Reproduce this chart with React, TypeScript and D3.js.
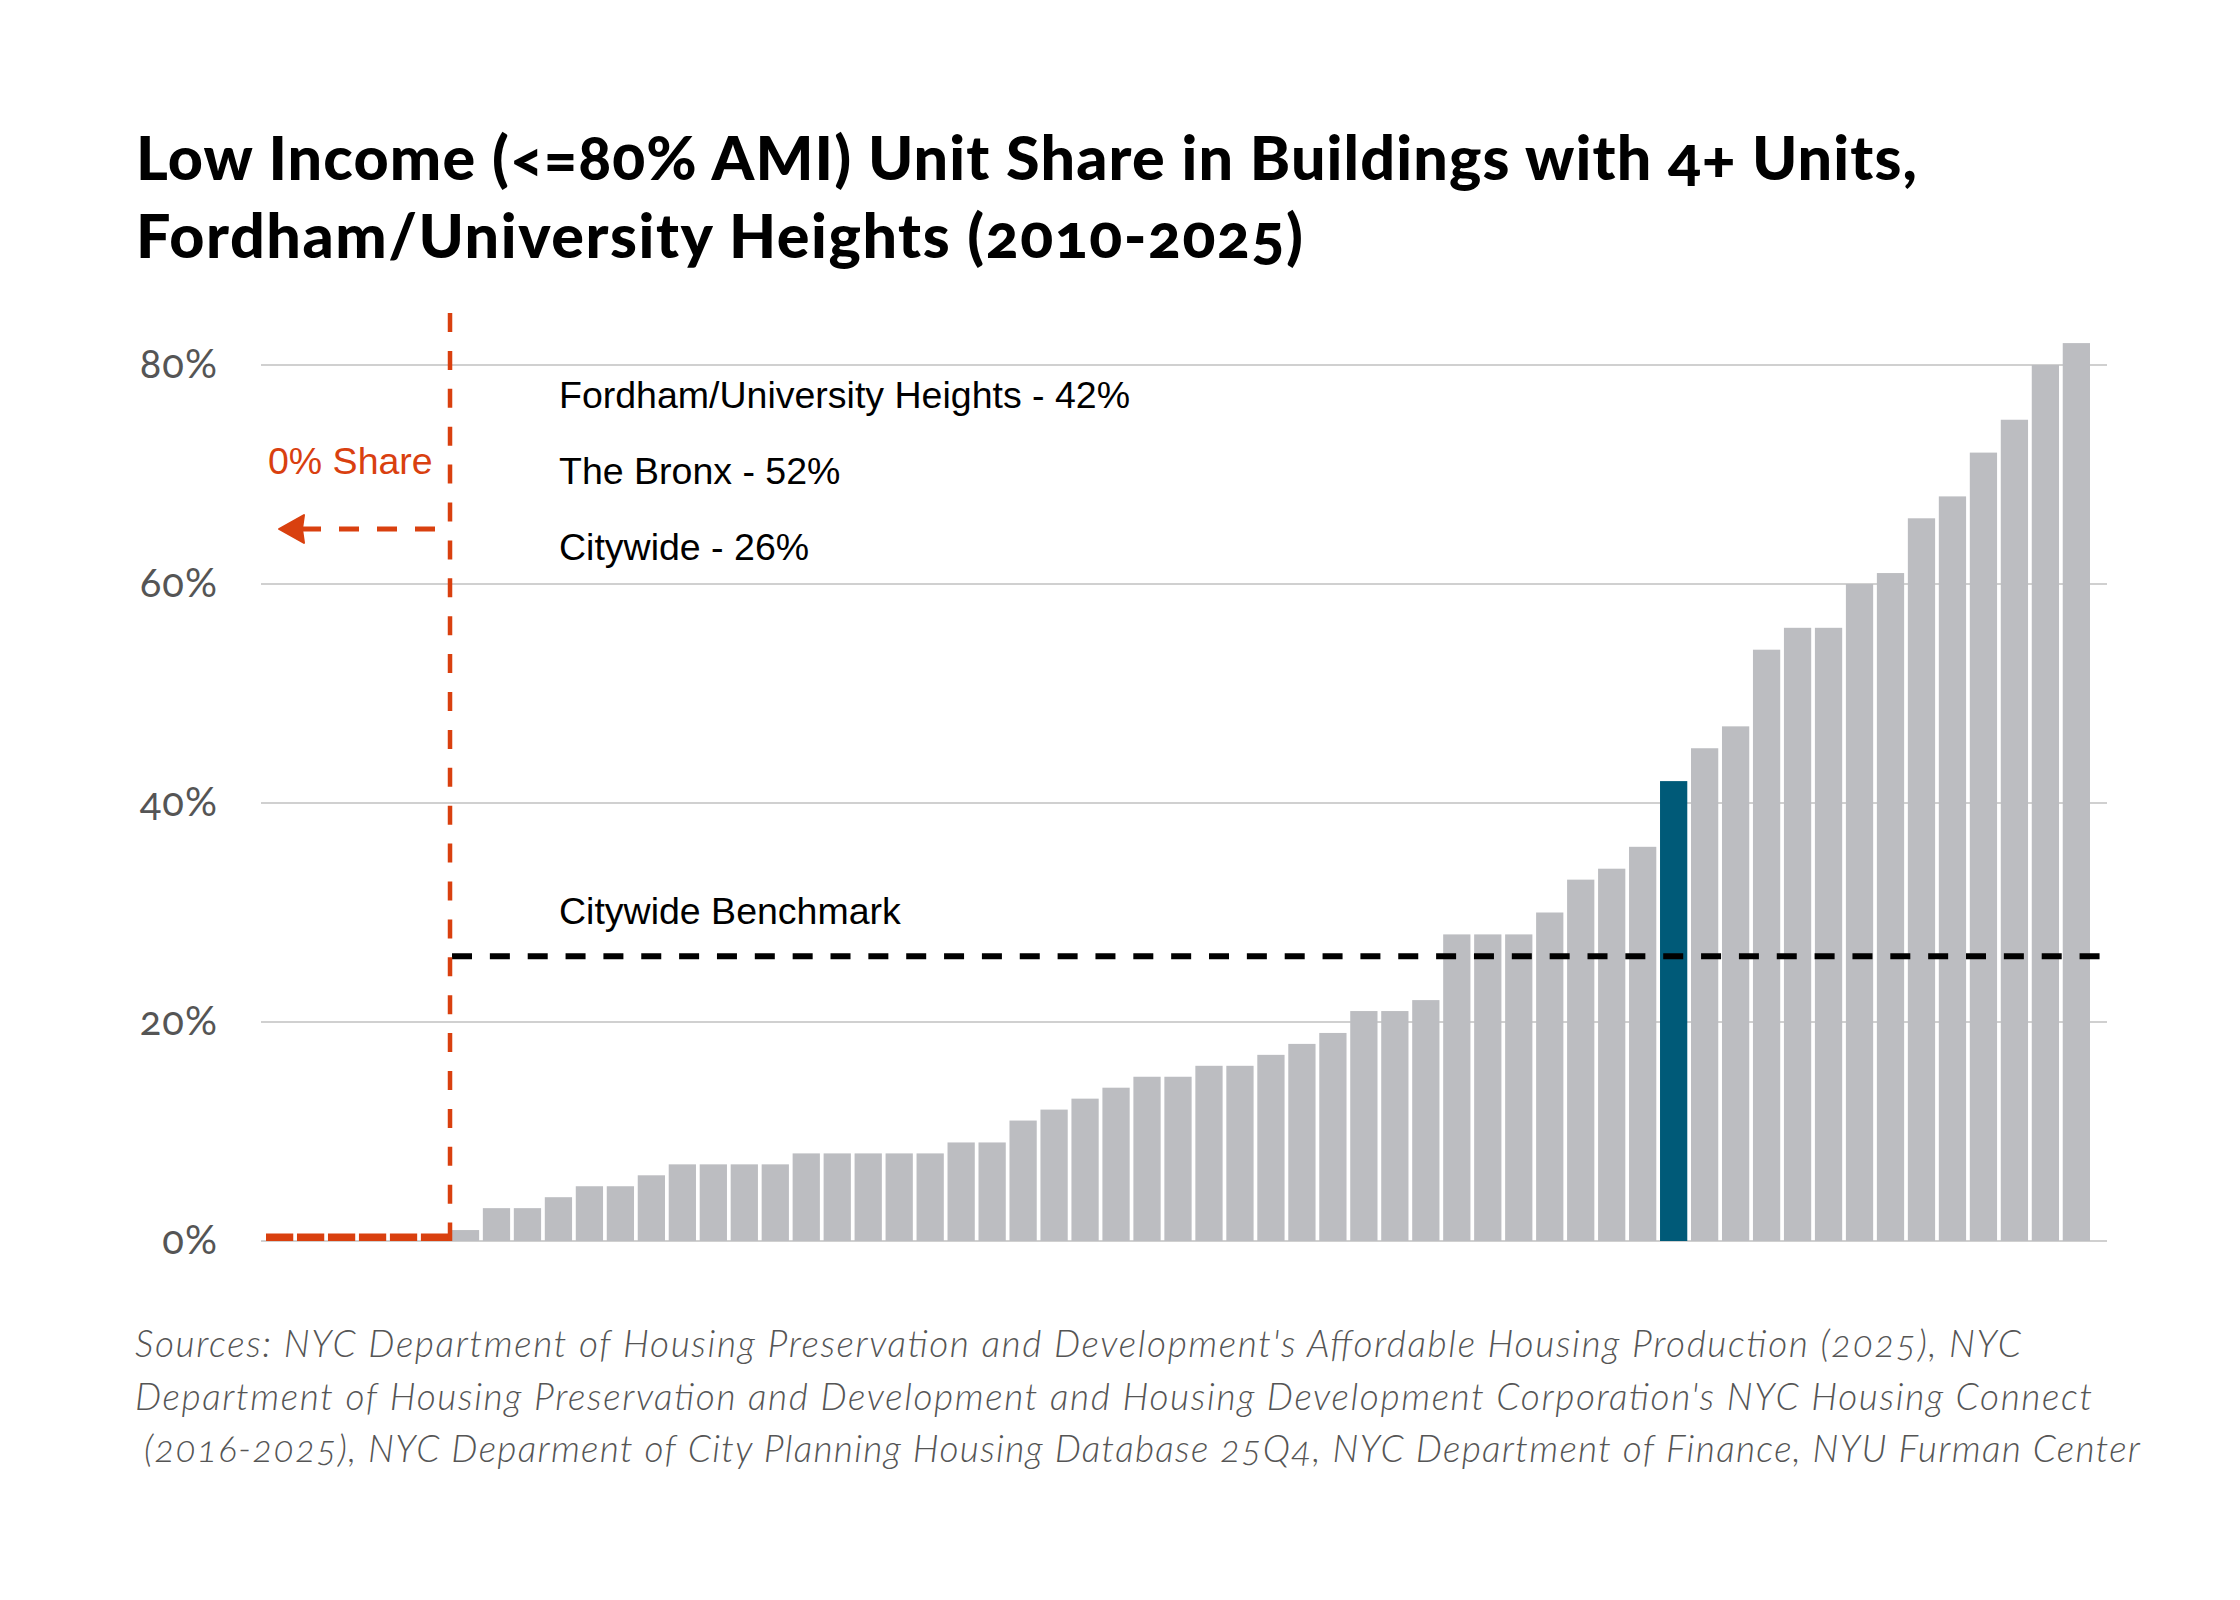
import React from "react";
import * as d3 from "d3";

const zeroCount = 6;
const shareValues = [1,3,3,4,5,5,6,7,7,7,7,8,8,8,8,8,9,9,11,12,13,14,15,15,16,16,17,18,19,21,21,22,28,28,28,30,33,34,36,42,45,47,54,56,56,60,61,66,68,72,75,80,82];
const highlightIndex = 39;
const yTicks = [0, 20, 40, 60, 80];
const benchmark = 26;
const titleLines = [
  "Low Income (<=80% AMI) Unit Share in Buildings with 4+ Units,",
  "Fordham/University Heights (2010-2025)",
];
const annotations = [
  "Fordham/University Heights - 42%",
  "The Bronx - 52%",
  "Citywide - 26%",
];
const benchmarkLabel = "Citywide Benchmark";
const zeroLabel = "0% Share";
const sourceLines = [
  "Sources: NYC Department of Housing Preservation and Development's Affordable Housing Production (2025), NYC",
  "Department of Housing Preservation and Development and Housing Development Corporation's NYC Housing Connect",
  "(2016-2025), NYC Deparment of City Planning Housing Database 25Q4, NYC Department of Finance, NYU Furman Center",
];

const W = 2240;
const H = 1600;
const GRAY = "#bcbdc1";
const BLUE = "#005a78";
const RED = "#d9400f";

const titleWidths = [1781, 1167];
const sourceWidths = [1886, 1957, 1996];

export default function App() {
  const allValues = [...Array(zeroCount).fill(0), ...shareValues];
  const x = d3
    .scaleBand<number>()
    .domain(allValues.map((_, i) => i))
    .range([266, 2090])
    .paddingInner(0.12)
    .paddingOuter(0);
  const y = d3.scaleLinear().domain([0, 80]).range([1241, 365]);
  const gridX0 = 261;
  const gridX1 = 2107;
  const splitX = (x(zeroCount) as number) - (x.step() * x.paddingInner()) / 2;
  const zeroH = 7.5;

  return (
    <svg
      width={W}
      height={H}
      viewBox={`0 0 ${W} ${H}`}
      style={{ position: "absolute", left: 0, top: 0, background: "#fff" }}
    >
      <rect x={0} y={0} width={W} height={H} fill="#fff" />
      {/* title */}
      <g fontFamily="Lato, 'Open Sans', sans-serif" fontWeight={900} fontSize={61} fill="#000"
        style={{ fontFeatureSettings: "'onum' 1" }}>
        {titleLines.map((t, i) => (
          <text key={i} x={136} y={180 + i * 78} textLength={titleWidths[i]} lengthAdjust="spacing">{t}</text>
        ))}
      </g>

      {/* gridlines */}
      {yTicks.map((t) => (
        <line key={t} x1={gridX0} x2={gridX1} y1={y(t)} y2={y(t)} stroke="#d0d0d0" strokeWidth={2} />
      ))}
      {/* y labels */}
      <g fontFamily="Lato, 'Open Sans', sans-serif" fontSize={40} fill="#555"
        textAnchor="end" letterSpacing={1} style={{ fontFeatureSettings: "'onum' 1" }}>
        {yTicks.map((t) => (
          <text key={t} x={218} y={y(t) + 13}>{`${t}%`}</text>
        ))}
      </g>

      {/* bars */}
      {allValues.map((v, i) => {
        if (i < zeroCount) {
          return (
            <rect key={i} x={x(i)} y={y(0) - zeroH} width={x.bandwidth()} height={zeroH} fill={RED} />
          );
        }
        const idx = i - zeroCount;
        return (
          <rect
            key={i}
            x={x(i)}
            y={y(v)}
            width={x.bandwidth()}
            height={y(0) - y(v)}
            fill={idx === highlightIndex ? BLUE : GRAY}
          />
        );
      })}

      {/* benchmark line */}
      <line x1={splitX + 2} x2={2104} y1={y(benchmark)} y2={y(benchmark)}
        stroke="#000" strokeWidth={6} strokeDasharray="20 17.85" />

      {/* red vertical divider */}
      <line x1={splitX} x2={splitX} y1={313} y2={y(0)} stroke={RED} strokeWidth={4.5} strokeDasharray="19 18.9" />

      {/* arrow */}
      <line x1={435} x2={301} y1={529} y2={529} stroke={RED} strokeWidth={5} strokeDasharray="20 18" />
      <path d="M279,529 L304,515 L302,529 L304,543 Z" fill={RED} stroke={RED} strokeWidth={2} strokeLinejoin="round" />
      <text x={268} y={474} fontFamily="'Liberation Sans', Arial, sans-serif" fontSize={37.5} fill={RED}>
        {zeroLabel}
      </text>

      {/* annotations */}
      <g fontFamily="'Liberation Sans', Arial, sans-serif" fontSize={37.5} fill="#000">
        {annotations.map((a, i) => (
          <text key={i} x={559} y={408 + i * 76}>{a}</text>
        ))}
        <text x={559} y={924}>{benchmarkLabel}</text>
      </g>

      {/* sources */}
      <g fontFamily="Lato, 'Open Sans', sans-serif" fontStyle="italic" fontWeight={300} fontSize={37} fill="#555"
        style={{ fontFeatureSettings: "'onum' 1" }}>
        {sourceLines.map((s, i) => (
          <text key={i} x={i === 2 ? 144 : 135} y={1357 + i * 52.5} textLength={sourceWidths[i]} lengthAdjust="spacing">{s}</text>
        ))}
      </g>
    </svg>
  );
}
